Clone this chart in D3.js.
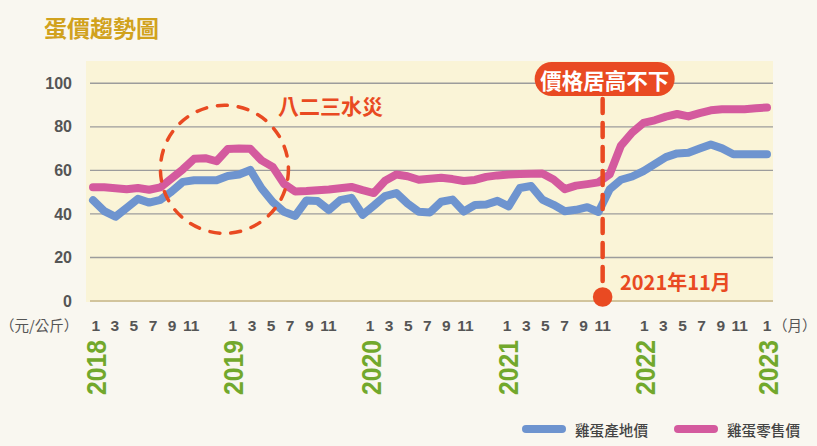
<!DOCTYPE html>
<html>
<head>
<meta charset="utf-8">
<script src="https://cdn.jsdelivr.net/npm/d3@7/dist/d3.min.js"></script>
<style>
  html, body { margin: 0; padding: 0; background: #f9f7f0; }
  svg { display: block; }
</style>
</head>
<body>
<svg id="chart" width="817" height="446"></svg>
<script>
// Monthly egg prices, Jan 2018 to Jan 2023 (元/公斤); index 0 = 2018-01
const farmPrice = [
  46.3, 41.3, 38.7, 42.8, 46.9, 45.2, 46.5, 50.3, 54.7, 55.5, 55.5, 55.5,
  57.4, 58.1, 60.2, 51.8, 45.5, 41.0, 39.1, 46.2, 45.9, 41.8, 46.3, 47.4,
  39.6, 43.8, 48.2, 49.6, 44.8, 41.0, 40.7, 45.6, 46.6, 41.1, 44.1, 44.3,
  46.0, 43.5, 51.9, 52.8, 46.6, 44.2, 41.2, 41.9, 43.1, 40.9, 51.3, 55.7,
  57.2, 59.7, 62.9, 66.1, 67.8, 68.1, 70.0, 71.9, 70.1, 67.4, 67.4, 67.4,
  67.4
];
const retailPrice = [
  52.2, 52.2, 51.8, 51.3, 51.9, 51.1, 52.2, 56.3, 60.5, 65.3, 65.6, 64.2,
  69.8, 70.0, 69.9, 64.6, 61.6, 53.8, 50.3, 50.5, 50.9, 51.2, 51.8, 52.4,
  50.9, 49.6, 55.2, 58.1, 57.3, 55.7, 56.2, 56.6, 56.0, 55.1, 55.6, 57.0,
  57.7, 58.1, 58.3, 58.4, 58.6, 55.8, 51.4, 53.0, 53.7, 54.5, 58.2, 71.4,
  77.4, 81.8, 83.0, 84.7, 85.9, 84.8, 86.3, 87.6, 88.1, 88.1, 88.1, 88.5,
  88.9
];
const yTicks = [0, 20, 40, 60, 80, 100];
const years = [2018, 2019, 2020, 2021, 2022, 2023];
const monthTicks = [1, 3, 5, 7, 9, 11];
const seriesNames = ["雞蛋產地價", "雞蛋零售價"];
const seriesColors = ["#6e94cf", "#d45a9e"];

const CJK = "'Noto Sans CJK TC', 'Noto Sans CJK SC', sans-serif";
const NUM = "'Liberation Sans', Arial, sans-serif";
const RED = "#e94a22";

const svg = d3.select("#chart");

// scales
const x = d3.scaleLinear().domain([0, 60]).range([93, 767]);
const y = d3.scaleLinear().domain([0, 100]).range([301, 83.3]);
// month labels are grouped by year
const yearStart = d3.scaleLinear().domain([2018, 2022]).range([95.7, 644.3]);
const monthStep = 9.55;
const labelX = (yr, m) => yr === 2023 ? x(60) : yearStart(yr) + (m - 1) * monthStep;

// title
svg.append("text")
  .attr("x", 44).attr("y", 27)
  .attr("dominant-baseline", "central")
  .style("font-family", CJK).style("font-weight", 700).style("font-size", "23px")
  .attr("fill", "#d1a21d")
  .text("蛋價趨勢圖");

// plot background
svg.append("rect")
  .attr("x", 86).attr("y", 61).attr("width", 687).attr("height", 241)
  .attr("fill", "#faf4d7");

// grid lines
svg.append("g").selectAll("line")
  .data(yTicks)
  .join("line")
  .attr("x1", 90).attr("x2", 773)
  .attr("y1", d => y(d)).attr("y2", d => y(d))
  .attr("stroke", d => d === 0 ? "#c4b488" : "#9c9c9c")
  .attr("stroke-width", 1.4);

// y axis labels
const yAxis = svg.append("g")
  .attr("transform", "translate(86,0)")
  .call(d3.axisLeft(y).tickValues(yTicks).tickSize(0).tickPadding(14));
yAxis.select(".domain").remove();
yAxis.selectAll("text")
  .style("font-family", NUM).style("font-weight", 700).style("font-size", "16px")
  .attr("fill", "#555");

// unit label
svg.append("text")
  .attr("x", 0).attr("y", 331)
  .style("font-family", CJK).style("font-size", "14.5px")
  .attr("fill", "#555")
  .text("（元/公斤）");

// month labels
const monthLabels = [];
years.forEach(yr => {
  (yr === 2023 ? [1] : monthTicks).forEach(m => monthLabels.push({ yr, m }));
});
svg.append("g").selectAll("text")
  .data(monthLabels)
  .join("text")
  .attr("x", d => labelX(d.yr, d.m))
  .attr("y", 331)
  .attr("text-anchor", "middle")
  .style("font-family", NUM).style("font-weight", 700).style("font-size", "15.5px")
  .attr("fill", "#555")
  .text(d => d.m);

svg.append("text")
  .attr("x", x(60) + 6).attr("y", 331)
  .style("font-family", CJK).style("font-size", "14.5px")
  .attr("fill", "#555")
  .text("（月）");

// year labels (vertical)
svg.append("g").selectAll("text")
  .data(years)
  .join("text")
  .attr("transform", d => `translate(${labelX(d, 1) + 1},367.5) rotate(-90) scale(0.88,1)`)
  .attr("text-anchor", "middle")
  .attr("dominant-baseline", "central")
  .style("font-family", NUM).style("font-weight", 700).style("font-size", "28px")
  .attr("fill", "#72a82c")
  .text(d => d);

// price lines
const line = d3.line().x((d, i) => x(i)).y(d => y(d));
svg.append("g").selectAll("path")
  .data([retailPrice, farmPrice])
  .join("path")
  .attr("d", d => line(d))
  .attr("fill", "none")
  .attr("stroke", (d, i) => i === 0 ? seriesColors[1] : seriesColors[0])
  .attr("stroke-width", 8)
  .attr("stroke-linejoin", "round")
  .attr("stroke-linecap", "round");

// 八二三水災 highlight
svg.append("circle")
  .attr("cx", x(11.7)).attr("cy", y(60.5)).attr("r", 64)
  .attr("fill", "none")
  .attr("stroke", RED).attr("stroke-width", 3.5)
  .attr("stroke-dasharray", "10 11")
  .attr("stroke-linecap", "round");
svg.append("text")
  .attr("x", 278).attr("y", 105)
  .attr("dominant-baseline", "central")
  .style("font-family", CJK).style("font-weight", 700).style("font-size", "21px")
  .attr("fill", RED)
  .text("八二三水災");

// 2021年11月 marker
const ax = labelX(2021, 11);
svg.append("line")
  .attr("x1", ax).attr("x2", ax)
  .attr("y1", 99).attr("y2", y(0) - 6)
  .attr("stroke", RED).attr("stroke-width", 4.5)
  .attr("stroke-dasharray", "14 10")
  .attr("stroke-linecap", "round");
svg.append("circle")
  .attr("cx", ax).attr("cy", y(0) - 4).attr("r", 9.8)
  .attr("fill", RED);
svg.append("text")
  .attr("x", 620).attr("y", 281)
  .attr("dominant-baseline", "central")
  .style("font-family", CJK).style("font-weight", 700).style("font-size", "20px")
  .attr("fill", RED)
  .text("2021年11月");

// callout pill
svg.append("rect")
  .attr("x", ax + 2 - 70).attr("y", 62).attr("width", 140).attr("height", 34)
  .attr("rx", 17)
  .attr("fill", RED);
svg.append("text")
  .attr("x", ax + 2).attr("y", 79)
  .attr("text-anchor", "middle").attr("dominant-baseline", "central")
  .style("font-family", CJK).style("font-weight", 700).style("font-size", "21.5px")
  .attr("fill", "#fff")
  .text("價格居高不下");

// legend
const legend = svg.append("g").selectAll("g")
  .data(seriesNames)
  .join("g")
  .attr("transform", (d, i) => `translate(${522 + i * 152},429)`);
legend.append("line")
  .attr("x1", 4).attr("x2", 40)
  .attr("stroke", (d, i) => seriesColors[i])
  .attr("stroke-width", 8).attr("stroke-linecap", "round");
legend.append("text")
  .attr("x", 53).attr("y", 0)
  .attr("dominant-baseline", "central")
  .style("font-family", CJK).style("font-weight", 500).style("font-size", "14.6px")
  .attr("fill", "#444")
  .text(d => d);
</script>
</body>
</html>
